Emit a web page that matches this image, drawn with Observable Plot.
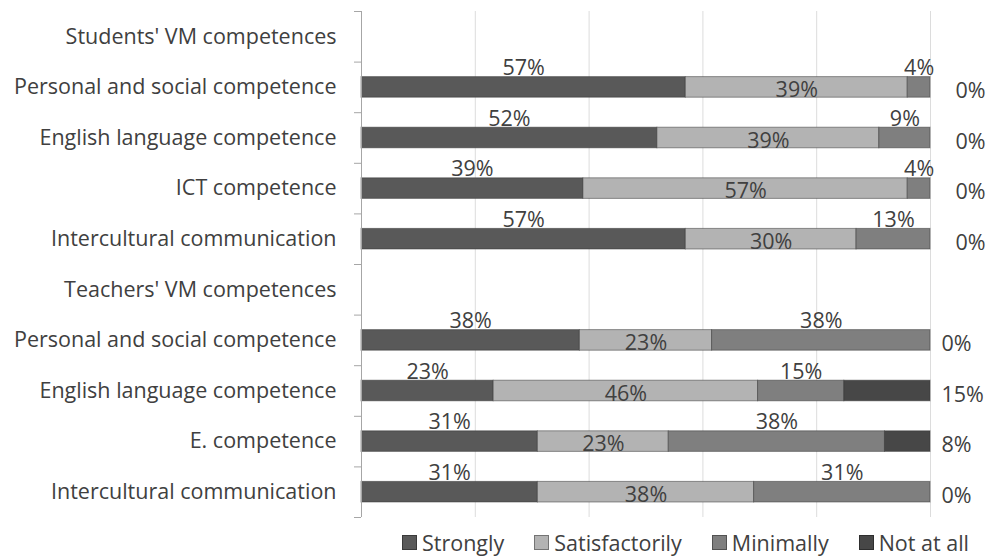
<!DOCTYPE html>
<html>
<head>
<meta charset="utf-8">
<script src="https://cdn.jsdelivr.net/npm/d3@7"></script>
<script src="https://cdn.jsdelivr.net/npm/@observablehq/plot@0.6"></script>
<style>
  body { margin: 0; background: #fff; font-family: "Open Sans", sans-serif; }
  #legend { display: flex; align-items: center; height: 28px; margin-left: 402px; color: #404040; font-size: 21.5px; white-space: nowrap; }
  .item { display: flex; align-items: center; margin-right: 30px; }
  .sw { width: 15px; height: 15px; margin-right: 5px; box-sizing: border-box; border: 1px solid rgba(0,0,0,0.35); }
</style>
</head>
<body>
<div id="chart"></div>
<div id="legend"></div>
<script>
const rowLabels = [
  "Students' VM competences",
  "Personal and social competence",
  "English language competence",
  "ICT competence",
  "Intercultural communication",
  "Teachers' VM competences",
  "Personal and social competence",
  "English language competence",
  "E. competence",
  "Intercultural communication"
];
const levels = ["Strongly", "Satisfactorily", "Minimally", "Not at all"];
const strongly       = [null, 57, 52, 39, 57, null, 38, 23, 31, 31];
const satisfactorily = [null, 39, 39, 57, 30, null, 23, 46, 23, 38];
const minimally      = [null,  4,  9,  4, 13, null, 38, 15, 38, 31];
const notAtAll       = [null,  0,  0,  0,  0, null,  0, 15,  8,  0];
const colors = ["#595959", "#b3b3b3", "#7f7f7f", "#474747"];

const series = [strongly, satisfactorily, minimally, notAtAll];
const data = [];
rowLabels.forEach((label, i) => {
  levels.forEach((level, j) => {
    const v = series[j][i];
    if (v != null) data.push({row: i, label, level, value: v, group: i < 5 ? "Students" : "Teachers"});
  });
});

const aboveText = d => (d.level === "Strongly" || d.level === "Minimally") ? d.value + "%" : "";
const insideText = d => d.level === "Satisfactorily" ? d.value + "%" : "";
const notData = data.filter(d => d.level === "Not at all");
const FS = 21.5;

const chart = Plot.plot({
  width: 987,
  height: 528,
  marginLeft: 361,
  marginRight: 57,
  marginTop: 11,
  marginBottom: 11,
  x: {domain: [0, 1], axis: null},
  y: {domain: [10, 0], axis: null},
  color: {domain: levels, range: colors},
  style: {fontFamily: "'Open Sans', sans-serif", fontSize: FS + "px", color: "#404040", background: "#fff"},
  marks: [
    Plot.gridX({ticks: [0.2, 0.4, 0.6, 0.8, 1], stroke: "#dcdcdc", strokeOpacity: 1}),
    Plot.rectX(data, {
      x: "value", y1: d => d.row, y2: d => d.row + 1, offset: "normalize",
      fill: "level", insetTop: 15, insetBottom: 15,
      stroke: "#333", strokeOpacity: 0.5, strokeWidth: 1
    }),
    Plot.ruleX([0], {stroke: "#a6a6a6"}),
    Plot.axisY({ticks: d3.range(0, 11), tickSize: 7, tickFormat: () => "", stroke: "#a6a6a6"}),
    Plot.axisY({
      ticks: rowLabels.map((_, i) => i + 0.5), tickSize: 0, tickPadding: 25,
      tickFormat: d => rowLabels[Math.floor(d)], fill: "#404040", fontSize: FS
    }),
    Plot.text(data, Plot.stackX({
      x: "value", y: d => d.row + 0.5, offset: "normalize",
      text: aboveText, dy: -19, fill: "#404040", fontSize: FS
    })),
    Plot.text(data, Plot.stackX({
      x: "value", y: d => d.row + 0.5, offset: "normalize",
      text: insideText, dy: 3, fill: "#404040", fontSize: FS
    })),
    Plot.text(notData.filter(d => d.group === "Students"), {
      y: d => d.row + 0.5, frameAnchor: "right", textAnchor: "start",
      dx: 25, dy: 4, text: d => d.value + "%", fill: "#404040", fontSize: FS
    }),
    Plot.text(notData.filter(d => d.group === "Teachers"), {
      y: d => d.row + 0.5, frameAnchor: "right", textAnchor: "start",
      dx: 11, dy: 4, text: d => d.value + "%", fill: "#404040", fontSize: FS
    })
  ]
});
document.getElementById("chart").appendChild(chart);

const legend = document.getElementById("legend");
levels.forEach((level, i) => {
  const item = document.createElement("div");
  item.className = "item";
  const sw = document.createElement("span");
  sw.className = "sw";
  sw.style.background = colors[i];
  const label = document.createElement("span");
  label.textContent = level;
  item.appendChild(sw);
  item.appendChild(label);
  legend.appendChild(item);
});
</script>
</body>
</html>
